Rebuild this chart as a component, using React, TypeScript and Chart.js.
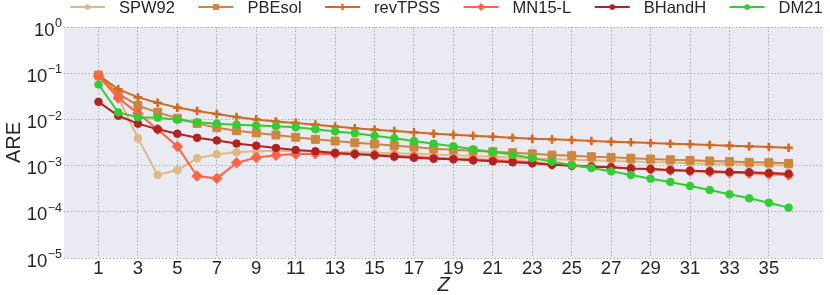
import React, { useEffect, useRef } from 'react';
import { Chart, registerables } from 'chart.js';

Chart.register(...registerables);

// ---------------- data ----------------
const Z = [1, 2, 3, 4, 5, 6, 7, 8, 9, 10, 11, 12, 13, 14, 15, 16, 17, 18, 19, 20, 21, 22, 23, 24, 25, 26, 27, 28, 29, 30, 31, 32, 33, 34, 35, 36];

const SPW92 = [0.085, 0.030, 0.0039, 0.00063, 0.0008, 0.00144, 0.00176, 0.00194, 0.00205, 0.0021, 0.00208, 0.00203, 0.00198, 0.00194, 0.0019, 0.00185, 0.0018, 0.00174, 0.00168, 0.00162, 0.00155, 0.00148, 0.00143, 0.00138, 0.00134, 0.0013, 0.00126, 0.00123, 0.0012, 0.00116, 0.00113, 0.0011, 0.00108, 0.00105, 0.00103, 0.00101];
const PBESOL = [0.091, 0.036, 0.0199, 0.0142, 0.0106, 0.0082, 0.0066, 0.0057, 0.0051, 0.0046, 0.0041, 0.0037, 0.0034, 0.00313, 0.00294, 0.0027, 0.00253, 0.00233, 0.0022, 0.0021, 0.002, 0.0019, 0.0018, 0.00169, 0.00164, 0.00156, 0.00151, 0.00144, 0.00139, 0.00134, 0.0013, 0.00126, 0.00122, 0.00118, 0.00116, 0.00112];
const REVTPSS = [0.091, 0.045, 0.030, 0.023, 0.018, 0.0152, 0.0131, 0.0113, 0.0100, 0.0090, 0.0084, 0.0077, 0.0070, 0.0064, 0.0060, 0.0056, 0.00525, 0.0049, 0.00467, 0.00443, 0.0042, 0.0040, 0.0038, 0.0037, 0.00358, 0.00341, 0.00329, 0.00319, 0.00308, 0.00298, 0.00289, 0.00279, 0.0027, 0.00261, 0.00253, 0.00244];
const MN15L = [0.087, 0.029, 0.0135, 0.0061, 0.0026, 0.000596, 0.00053, 0.00115, 0.0015, 0.00167, 0.00178, 0.00181, 0.00178, 0.00175, 0.0017, 0.00164, 0.00156, 0.00148, 0.00141, 0.00137, 0.00132, 0.00126, 0.0012, 0.00106, 0.00102, 0.00096, 0.00092, 0.00086, 0.00083, 0.00079, 0.00076, 0.00073, 0.0007, 0.00068, 0.00065, 0.000626];
const BHANDH = [0.024, 0.012, 0.0081, 0.0061, 0.0049, 0.0040, 0.0035, 0.0030, 0.0027, 0.0024, 0.00218, 0.00204, 0.00187, 0.00178, 0.00167, 0.00156, 0.00148, 0.00141, 0.00137, 0.0013, 0.00124, 0.00118, 0.00112, 0.00104, 0.000995, 0.000946, 0.000918, 0.00087, 0.000843, 0.000803, 0.000776, 0.000753, 0.000727, 0.000716, 0.000692, 0.000668];
const DM21 = [0.057, 0.0142, 0.0111, 0.0109, 0.0098, 0.0087, 0.0081, 0.0077, 0.0074, 0.0071, 0.00675, 0.0061, 0.0055, 0.0050, 0.00443, 0.0039, 0.0034, 0.00298, 0.00262, 0.00225, 0.00197, 0.00173, 0.00145, 0.00122, 0.00103, 0.000887, 0.000752, 0.000626, 0.000521, 0.000442, 0.000362, 0.000296, 0.000239, 0.000196, 0.000157, 0.000123];

const SERIES_NAMES = ['SPW92', 'PBEsol', 'revTPSS', 'MN15-L', 'BHandH', 'DM21'];
const SERIES_VALUES = [SPW92, PBESOL, REVTPSS, MN15L, BHANDH, DM21];

const X_TICKS = [1, 3, 5, 7, 9, 11, 13, 15, 17, 19, 21, 23, 25, 27, 29, 31, 33, 35];
const Y_EXPONENTS = [0, -1, -2, -3, -4, -5];

// ---------------- styles ----------------
const FONT = '"Liberation Sans", Arial, Helvetica, sans-serif';
const TEXT_COLOR = '#262626';
const GRID_COLOR = 'rgba(165,165,172,0.9)';
const PLOT_BG = '#EAEAF2';

type MarkerKind = 'circle' | 'rect' | 'cross' | 'rectRot';
const STYLES: { color: string; marker: MarkerKind; radius: number; border: number }[] = [
  { color: '#DEB887', marker: 'circle', radius: 3.8, border: 1 },
  { color: '#CD853F', marker: 'rect', radius: 5.6, border: 1 },
  { color: '#D2691E', marker: 'cross', radius: 4.3, border: 2.6 },
  { color: '#FF6347', marker: 'rectRot', radius: 5.2, border: 1 },
  { color: '#B22222', marker: 'circle', radius: 3.8, border: 1 },
  { color: '#32CD32', marker: 'circle', radius: 3.8, border: 1 },
];

function drawMarker(ctx: CanvasRenderingContext2D, kind: MarkerKind, x: number, y: number, r: number, color: string) {
  ctx.save();
  ctx.fillStyle = color;
  ctx.strokeStyle = color;
  ctx.beginPath();
  if (kind === 'circle') {
    ctx.arc(x, y, r, 0, Math.PI * 2);
    ctx.fill();
  } else if (kind === 'rect') {
    const s = r * Math.SQRT1_2;
    ctx.rect(x - s, y - s, 2 * s, 2 * s);
    ctx.fill();
  } else if (kind === 'rectRot') {
    ctx.moveTo(x, y - r);
    ctx.lineTo(x + r, y);
    ctx.lineTo(x, y + r);
    ctx.lineTo(x - r, y);
    ctx.closePath();
    ctx.fill();
  } else {
    ctx.lineWidth = 2.2;
    ctx.moveTo(x - r, y);
    ctx.lineTo(x + r, y);
    ctx.moveTo(x, y - r);
    ctx.lineTo(x, y + r);
    ctx.stroke();
  }
  ctx.restore();
}

const backgroundPlugin = {
  id: 'plotBackground',
  beforeDraw(chart: any) {
    const { ctx, chartArea } = chart;
    ctx.save();
    ctx.fillStyle = '#ffffff';
    ctx.fillRect(0, 0, chart.width, chart.height);
    ctx.fillStyle = PLOT_BG;
    ctx.fillRect(chartArea.left, chartArea.top, chartArea.right - chartArea.left, chartArea.bottom - chartArea.top);
    ctx.restore();
  },
};

const yTickPlugin = {
  id: 'powerTicks',
  afterDraw(chart: any) {
    const { ctx, chartArea } = chart;
    const yScale = chart.scales.y;
    ctx.save();
    ctx.fillStyle = TEXT_COLOR;
    ctx.textAlign = 'left';
    ctx.textBaseline = 'alphabetic';
    Y_EXPONENTS.forEach((e) => {
      const py = yScale.getPixelForValue(Math.pow(10, e));
      const expText = e < 0 ? '\u2212' + String(-e) : String(e);
      ctx.font = `12.5px ${FONT}`;
      const expW = ctx.measureText(expText).width;
      ctx.font = `18.5px ${FONT}`;
      const baseW = ctx.measureText('10').width;
      const right = chartArea.left - 2;
      const baseX = right - expW - baseW - 0.5;
      ctx.fillText('10', baseX, py + 8.5);
      ctx.font = `12.5px ${FONT}`;
      ctx.fillText(expText, right - expW, py + 0.2);
    });
    ctx.restore();
  },
};

const legendPlugin = {
  id: 'lineLegend',
  afterDraw(chart: any) {
    const { ctx, chartArea } = chart;
    ctx.save();
    let x = chartArea.left + 6;
    const y = 7;
    chart.data.datasets.forEach((ds: any, i: number) => {
      const st = STYLES[i];
      ctx.strokeStyle = st.color;
      ctx.lineWidth = 2;
      ctx.beginPath();
      ctx.moveTo(x, y);
      ctx.lineTo(x + 35, y);
      ctx.stroke();
      drawMarker(ctx, st.marker, x + 17.5, y, st.radius * 0.75, st.color);
      ctx.font = `16.5px ${FONT}`;
      ctx.fillStyle = TEXT_COLOR;
      ctx.textAlign = 'left';
      ctx.textBaseline = 'alphabetic';
      ctx.fillText(ds.label, x + 49, 13);
      x += 49 + ctx.measureText(ds.label).width + 23.5;
    });
    ctx.restore();
  },
};

export default function App() {
  const canvasRef = useRef<HTMLCanvasElement | null>(null);

  useEffect(() => {
    document.body.style.margin = '0';
    const canvas = canvasRef.current;
    if (!canvas) return;

    const datasets = SERIES_NAMES.map((name, i) => {
      const st = STYLES[i];
      return {
        label: name,
        data: Z.map((z, j) => ({ x: z, y: SERIES_VALUES[i][j] })),
        borderColor: st.color,
        backgroundColor: st.color,
        borderWidth: 2,
        pointStyle: st.marker,
        pointRadius: st.radius,
        pointBorderWidth: st.border,
        pointBorderColor: st.color,
        pointBackgroundColor: st.color,
        pointHoverRadius: st.radius,
        tension: 0,
        order: SERIES_NAMES.length - 1 - i,
      };
    });

    const gridOpts = { color: GRID_COLOR, lineWidth: 1, drawTicks: false, borderDash: [1.5, 2], borderDashOffset: 0 };
    const borderOpts = { display: false, dash: [1.5, 2], dashOffset: 0 };

    const chart = new Chart(canvas, {
      type: 'line',
      data: { datasets },
      options: {
        animation: false,
        responsive: false,
        devicePixelRatio: 1,
        events: [],
        layout: { padding: { top: 27, right: 4, left: 0, bottom: 0 } },
        plugins: {
          legend: { display: false },
          tooltip: { enabled: false },
        },
        scales: {
          x: {
            type: 'linear',
            min: -0.75,
            max: 37.75,
            afterBuildTicks: (s: any) => {
              s.ticks = X_TICKS.map((v) => ({ value: v }));
            },
            afterFit: (s: any) => {
              s.height = 37;
            },
            ticks: {
              autoSkip: false,
              maxRotation: 0,
              minRotation: 0,
              padding: 0,
              color: TEXT_COLOR,
              font: { family: FONT, size: 18.5 },
              callback: (v: any) => String(v),
            },
            grid: gridOpts,
            border: borderOpts,
            title: {
              display: true,
              text: 'Z',
              color: TEXT_COLOR,
              padding: 0,
              font: { family: FONT, size: 20, style: 'italic', lineHeight: 1 },
            },
          },
          y: {
            type: 'logarithmic',
            min: 1e-5,
            max: 1,
            afterBuildTicks: (s: any) => {
              s.ticks = Y_EXPONENTS.map((e) => ({ value: Math.pow(10, e) }));
            },
            afterFit: (s: any) => {
              s.width = 64;
            },
            ticks: { display: false },
            grid: gridOpts,
            border: borderOpts,
            title: {
              display: true,
              text: 'ARE',
              color: TEXT_COLOR,
              padding: { top: 4, bottom: 0 },
              font: { family: FONT, size: 20, lineHeight: 1 },
            },
          },
        },
      },
      plugins: [backgroundPlugin, yTickPlugin, legendPlugin],
    } as any);

    return () => {
      chart.destroy();
    };
  }, []);

  return (
    <div style={{ width: 830, height: 295 }}>
      <canvas ref={canvasRef} width={830} height={295} style={{ display: 'block' }} />
    </div>
  );
}
